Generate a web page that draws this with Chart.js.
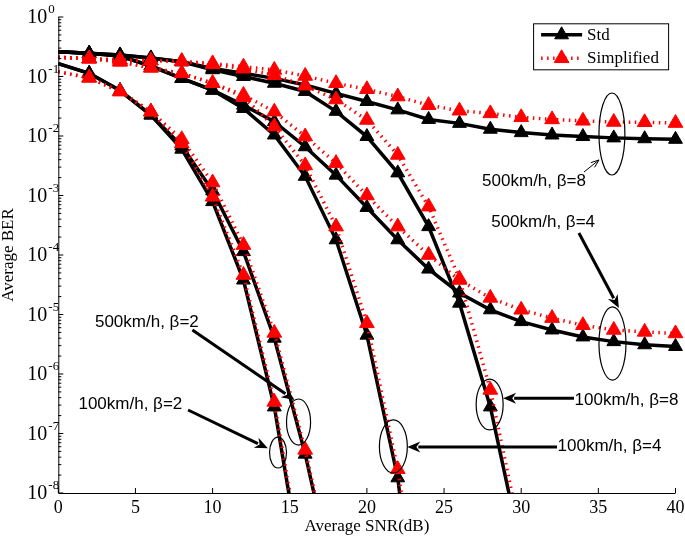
<!DOCTYPE html>
<html><head><meta charset="utf-8">
<script src="https://cdn.jsdelivr.net/npm/chart.js@4/dist/chart.umd.min.js"></script>
<style>html,body{margin:0;padding:0;background:#fff}</style>
</head><body>
<canvas id="c" width="685" height="536"></canvas>
<script>
// ---- data ----
const snr = [0,2,4,6,8,10,12,14,16,18,20,22,24,26,28,30,32,34,36,38,40];
const yTicks = [1e0,1e-1,1e-2,1e-3,1e-4,1e-5,1e-6,1e-7,1e-8];
const xTicks = [0,5,10,15,20,25,30,35,40];
const seriesNames = ['Std','Simplified'];

const std100b2 = [0.165,0.113,0.058,0.0225,0.006,7.9e-4,3.8e-5,2.8e-7,2.3e-10];
const sim100b2 = [0.12,0.095,0.056,0.0256,0.0075,9.5e-4,4.6e-5,3.4e-7,3.0e-10];
const std500b2 = [0.165,0.113,0.058,0.0225,0.0068,1.2e-3,1.14e-4,4.0e-6,4.5e-8,2.2e-10];
const sim500b2 = [0.12,0.095,0.056,0.0256,0.0088,1.65e-3,1.47e-4,4.9e-6,5.3e-8,2.5e-10];
const std100b4 = [0.26,0.245,0.22,0.15,0.093,0.059,0.029,0.0104,0.0021,1.8e-4,4.5e-6,1.8e-8,1e-12];
const sim100b4 = [0.21,0.2,0.177,0.14,0.113,0.077,0.045,0.0144,0.0032,3.0e-4,7.1e-6,2.5e-8,1e-11];
const std500b4 = [0.26,0.245,0.22,0.15,0.093,0.059,0.033,0.0174,0.0066,0.0022,6.3e-4,1.8e-4,5.8e-5,2.3e-5,1.2e-5,7.6e-6,5.5e-6,4.2e-6,3.5e-6,3.1e-6,2.9e-6];
const sim500b4 = [0.21,0.2,0.177,0.14,0.113,0.077,0.049,0.0256,0.0098,0.0035,1.0e-3,3.0e-4,1.0e-4,3.8e-5,1.9e-5,1.2e-5,8.7e-6,6.6e-6,5.5e-6,5.1e-6,4.8e-6];
const std100b8 = [0.26,0.245,0.23,0.205,0.177,0.13,0.1,0.077,0.056,0.026,0.0098,0.0024,3.0e-4,1.55e-5,2.8e-7,1.1e-9];
const sim100b8 = [0.21,0.2,0.19,0.185,0.18,0.16,0.135,0.105,0.07,0.041,0.0186,0.0048,6.5e-4,4.0e-5,5.4e-7,1.8e-9];
const std500b8 = [0.26,0.245,0.23,0.205,0.177,0.137,0.113,0.093,0.072,0.052,0.038,0.0275,0.019,0.0163,0.013,0.0114,0.0104,0.0098,0.0093,0.009,0.0088];
const sim500b8 = [0.21,0.2,0.19,0.185,0.18,0.166,0.146,0.129,0.102,0.077,0.061,0.046,0.033,0.0266,0.024,0.0206,0.019,0.018,0.0172,0.017,0.0165];

// annotations in data coordinates (x: dB, y: BER)
const notes = [
  {text:'500km/h, \u03b2=8', tx:30.83, ty:Math.pow(10,-2.756), from:[34.07,Math.pow(10,-2.605)], to:[35.04,Math.pow(10,-2.403)], thin:true,  ell:[35.04,36.72,0.0528,0.00221]},
  {text:'500km/h, \u03b2=4', tx:31.42, ty:Math.pow(10,-3.454), from:[33.74,Math.pow(10,-3.63)],  to:[36.33,Math.pow(10,-4.89)],  thin:false, ell:[35.04,36.79,1.34e-5,7.9e-7]},
  {text:'100km/h, \u03b2=8', tx:36.82, ty:Math.pow(10,-6.437), from:[33.42,Math.pow(10,-6.408)], to:[28.83,Math.pow(10,-6.408)], thin:false, ell:[27.08,28.83,8.2e-7,1.15e-7]},
  {text:'100km/h, \u03b2=4', tx:35.72, ty:Math.pow(10,-7.218), from:[32.32,Math.pow(10,-7.227)], to:[22.62,Math.pow(10,-7.227)], thin:false, ell:[20.81,22.62,1.69e-7,2.17e-8]},
  {text:'500km/h, \u03b2=2', tx:5.74,  ty:Math.pow(10,-5.126), from:[8.69,Math.pow(10,-5.26)],   to:[15.31,Math.pow(10,-6.437)], thin:false, ell:[14.79,16.35,3.8e-7,6.4e-8]},
  {text:'100km/h, \u03b2=2', tx:4.67,  ty:Math.pow(10,-6.513), from:[8.41,Math.pow(10,-6.605)],  to:[13.58,Math.pow(10,-7.249)], thin:false, ell:[13.69,14.79,8.7e-8,2.63e-8]}
];

function pts(arr){ return arr.map((v,i)=>({x:snr[i], y:v})); }
const rad = r => (c => (c.raw && c.raw.x === 0) ? 0 : r);

function stdDs(arr){ return {label:seriesNames[0], data:pts(arr), borderColor:'#000', backgroundColor:'#000', borderWidth:3.5,
  pointStyle:'triangle', pointRadius:rad(8), pointBackgroundColor:'#000', pointBorderColor:'#000', pointBorderWidth:1, order:2,
  clip:{left:false,top:false,right:false,bottom:0}}; }
function simDs(arr){ return {label:seriesNames[1], data:pts(arr), borderColor:'#ff0000', backgroundColor:'#ff0000', borderWidth:3.5, borderDash:[1.5,4.5],
  pointStyle:'triangle', pointRadius:rad(8.5), pointBackgroundColor:'#ff0000', pointBorderColor:'#ff0000', pointBorderWidth:1, order:1,
  clip:{left:false,top:false,right:false,bottom:0}}; }

const SERIF = '"Liberation Serif","Times New Roman",serif';
const SANS = '"Liberation Sans",Arial,sans-serif';

function arrow(ctx, x1,y1,x2,y2, thin){
  const a = Math.atan2(y2-y1, x2-x1);
  ctx.save(); ctx.strokeStyle='#000'; ctx.fillStyle='#000';
  if (thin){
    ctx.lineWidth=1;
    ctx.beginPath(); ctx.moveTo(x1,y1); ctx.lineTo(x2,y2); ctx.stroke();
    const L=8, W=3;
    ctx.beginPath();
    ctx.moveTo(x2 - L*Math.cos(a) + W*Math.sin(a), y2 - L*Math.sin(a) - W*Math.cos(a));
    ctx.lineTo(x2,y2);
    ctx.lineTo(x2 - L*Math.cos(a) - W*Math.sin(a), y2 - L*Math.sin(a) + W*Math.cos(a));
    ctx.stroke();
  } else {
    const L=13, W=5.5;
    ctx.lineWidth=3;
    ctx.beginPath(); ctx.moveTo(x1,y1); ctx.lineTo(x2 - (L-2)*Math.cos(a), y2 - (L-2)*Math.sin(a)); ctx.stroke();
    ctx.beginPath();
    ctx.moveTo(x2,y2);
    ctx.lineTo(x2 - L*Math.cos(a) + W*Math.sin(a), y2 - L*Math.sin(a) - W*Math.cos(a));
    ctx.lineTo(x2 - 0.7*L*Math.cos(a), y2 - 0.7*L*Math.sin(a));
    ctx.lineTo(x2 - L*Math.cos(a) - W*Math.sin(a), y2 - L*Math.sin(a) + W*Math.cos(a));
    ctx.closePath(); ctx.fill();
  }
  ctx.restore();
}

function tri(ctx, x, y, r, color){
  ctx.save(); ctx.fillStyle=color; ctx.strokeStyle=color; ctx.lineWidth=1;
  ctx.beginPath();
  ctx.moveTo(x, y-r);
  ctx.lineTo(x+0.866*r, y+0.5*r);
  ctx.lineTo(x-0.866*r, y+0.5*r);
  ctx.closePath(); ctx.fill(); ctx.stroke(); ctx.restore();
}

const decor = {
  id:'decor',
  afterDatasetsDraw(chart){
    const ctx = chart.ctx, xs = chart.scales.x, ys = chart.scales.y, ca = chart.chartArea;
    ctx.save();
    // axes lines
    ctx.strokeStyle='#000'; ctx.lineWidth=1;
    ctx.beginPath();
    ctx.moveTo(ca.left+0.5, ca.top); ctx.lineTo(ca.left+0.5, ca.bottom+0.5); ctx.lineTo(ca.right, ca.bottom+0.5);
    ctx.stroke();
    // x ticks + labels
    ctx.fillStyle='#000'; ctx.font='18px '+SERIF; ctx.textAlign='center'; ctx.textBaseline='middle';
    xTicks.forEach(v=>{
      const px = xs.getPixelForValue(v);
      ctx.beginPath(); ctx.moveTo(px, ca.bottom); ctx.lineTo(px, ca.bottom-5); ctx.stroke();
      ctx.fillText(String(v), px, ca.bottom+15);
    });
    // y ticks (major + minor) + labels
    yTicks.forEach((v,i)=>{
      const py = ys.getPixelForValue(v);
      ctx.beginPath(); ctx.moveTo(ca.left, py); ctx.lineTo(ca.left+5, py); ctx.stroke();
      if (i>0){
        for (let m=2;m<=9;m++){
          const q = ys.getPixelForValue(v*m);
          ctx.beginPath(); ctx.moveTo(ca.left, q); ctx.lineTo(ca.left+3, q); ctx.stroke();
        }
      }
      const exp = Math.round(Math.log10(v));
      ctx.font='20px '+SERIF; ctx.textAlign='right'; ctx.textBaseline='middle';
      ctx.fillText('10', ca.left-11, py+1);
      ctx.font='13px '+SERIF; ctx.textAlign='left';
      ctx.fillText(exp===0 ? '0' : '-'+String(-exp), ca.left-10, py-7);
    });
    // axis titles
    ctx.font='17px '+SERIF; ctx.textAlign='center'; ctx.textBaseline='middle';
    ctx.fillText('Average SNR(dB)', (ca.left+ca.right)/2, 527);
    ctx.save(); ctx.translate(9, (ca.top+ca.bottom)/2); ctx.rotate(-Math.PI/2);
    ctx.fillText('Average BER', 0, 0); ctx.restore();
    // annotations
    notes.forEach(n=>{
      const e = n.ell;
      const x1 = xs.getPixelForValue(e[0]), x2 = xs.getPixelForValue(e[1]);
      const y1 = ys.getPixelForValue(e[2]), y2 = ys.getPixelForValue(e[3]);
      ctx.lineWidth=1.2; ctx.strokeStyle='#000';
      ctx.beginPath(); ctx.ellipse((x1+x2)/2, (y1+y2)/2, Math.abs(x2-x1)/2, Math.abs(y2-y1)/2, 0, 0, Math.PI*2); ctx.stroke();
      arrow(ctx, xs.getPixelForValue(n.from[0]), ys.getPixelForValue(n.from[1]), xs.getPixelForValue(n.to[0]), ys.getPixelForValue(n.to[1]), n.thin);
      ctx.font='17px '+SANS; ctx.fillStyle='#000'; ctx.textAlign='center'; ctx.textBaseline='middle';
      ctx.fillText(n.text, xs.getPixelForValue(n.tx), ys.getPixelForValue(n.ty));
    });
    // legend
    const lx = ca.right-142.4, ly = ca.top+6.3, lw = 135, lh = 46;
    ctx.fillStyle='#fff'; ctx.fillRect(lx, ly, lw, lh);
    ctx.strokeStyle='#000'; ctx.lineWidth=1; ctx.strokeRect(lx+0.5, ly+0.5, lw, lh);
    const r1 = ly+11.5, r2 = ly+35;
    ctx.lineWidth=3.5; ctx.strokeStyle='#000';
    ctx.beginPath(); ctx.moveTo(lx+8, r1); ctx.lineTo(lx+49, r1); ctx.stroke();
    tri(ctx, lx+28.5, r1, 8, '#000');
    ctx.strokeStyle='#ff0000'; ctx.setLineDash([1.5,4.5]);
    ctx.beginPath(); ctx.moveTo(lx+8, r2); ctx.lineTo(lx+49, r2); ctx.stroke();
    ctx.setLineDash([]);
    tri(ctx, lx+28.5, r2, 8.5, '#ff0000');
    ctx.fillStyle='#000'; ctx.font='17px '+SERIF; ctx.textAlign='left'; ctx.textBaseline='middle';
    ctx.fillText(seriesNames[0], lx+54, r1+1);
    ctx.fillText(seriesNames[1], lx+54, r2);
    ctx.restore();
  }
};

new Chart(document.getElementById('c'), {
  type:'line',
  data:{ datasets:[
    stdDs(std100b2), stdDs(std500b2), stdDs(std100b4), stdDs(std500b4), stdDs(std100b8), stdDs(std500b8),
    simDs(sim100b2), simDs(sim500b2), simDs(sim100b4), simDs(sim500b4), simDs(sim100b8), simDs(sim500b8)
  ]},
  options:{
    responsive:false, animation:false, devicePixelRatio:1,
    layout:{padding:{left:0, right:8.3, top:17, bottom:0}},
    plugins:{legend:{display:false}, tooltip:{enabled:false}},
    elements:{line:{tension:0}},
    scales:{
      x:{type:'linear', min:0, max:40, grid:{display:false}, border:{display:false}, ticks:{display:false},
         afterFit:s=>{s.height=43;}},
      y:{type:'logarithmic', min:1e-8, max:1, grid:{display:false}, border:{display:false}, ticks:{display:false},
         afterFit:s=>{s.width=58.3;}}
    }
  },
  plugins:[decor]
});
</script>
</body></html>
